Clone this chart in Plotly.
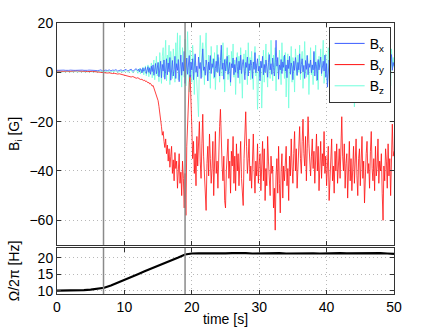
import plotly.graph_objects as go
from plotly.subplots import make_subplots

# time base (s): 0.25 s steps while quiet, 0.125 s steps from 12 s on
t = [i * 0.25 for i in range(48)] + [12 + i * 0.125 for i in range(305)]

Bx = [
    0.8, 0.9, 0.7, 0.8, 0.9, 0.8, 0.7, 0.8, 0.9, 0.7, 0.8, 0.8, 0.9, 0.7, 0.8, 0.9, 0.8, 0.7, 0.8, 0.9,
    0.8, 0.7, 0.9, 0.8, 0.7, 0.8, 1.0, 0.6, 0.8, 0.9, 0.7, 1.0, 0.6, 0.9, 0.8, 1.1, 0.5, 0.9, 1.0, 0.6,
    0.9, 1.2, 0.5, 1.0, 1.3, 0.4, 1.1, 1.5,
    0.6, 1.3, 0.2, 1.5, 0.9, -0.2, 1.8, 0.4, 1.1, 2.0, -0.5, 1.4, 2.3, 0.0, 1.7, -0.8,
    2.5, 0.3, 3.0, -1.2, 1.8, 3.6, -0.6, 2.2, 4.0, -1.8, 1.0, 4.5, -2.2, 3.2, 0.5, 5.0,
    -2.8, 2.0, 5.5, -1.0, 3.8, 0.2, 6.0, -3.2, 2.8, 4.8, -1.5, 1.2, 6.5, -2.5, 3.5, 0.8,
    5.2, -3.8, 2.2, 7.0, -1.2, 4.0, 0.5, 8.5, -4.5, 3.0, 5.8, -0.8, 2.0, 6.8, -2.0, 4.2,
    1.0, 5.5, -3.0, 3.2, 7.5, 0.0, 2.5, -1.8, 6.2, 1.5, 4.0, -2.5, 3.0, 9.5, 0.8, 2.2,
    -1.2, 5.0, 2.8, -3.5, 4.2, 1.0, 6.8, -0.5, 3.5, 2.0, 5.5, -2.0, 1.5, 4.5, 0.2, 7.2,
    2.5, -1.5, 4.8, 11.0, 1.2, 3.8, -2.8, 5.2, 0.5, 3.0, 6.5, -0.8, 2.2, 4.0, -4.0, 3.5,
    1.8, 5.8, -1.0, 3.2, 0.0, 6.0, 2.5, -2.2, 4.5, 1.0, 7.0, -0.5, 3.0, 5.2, 1.5, -3.0,
    4.0, 2.0, 6.2, -1.5, 3.5, 0.8, 5.0, 2.8, -2.5, 4.2, 1.2, 8.0, -0.2, 3.0, 5.5, 0.5,
    2.5, -3.5, 4.5, 1.8, 6.5, -1.0, 3.2, 0.0, 5.0, 2.2, -2.0, 4.0, 7.2, 1.0, 3.5, -0.8,
    5.8, 2.0, -1.5, 4.0, 13.0, 2.5, 6.0, -2.8, 3.0, 1.0, 5.2, -0.5, 4.2, 2.0, 7.0, 0.5,
    3.0, -2.2, 5.0, 1.5, 6.5, -0.8, 3.8, 2.2, -3.0, 4.5, 0.8, 6.0, 2.5, -1.2, 4.0, 1.0,
    7.5, -0.5, 3.2, 5.5, 0.2, 2.8, -2.5, 4.8, 1.2, 6.8, -1.0, 3.5, 2.0, 5.0, -0.2, 3.0,
    1.0, 8.5, -1.5, 4.2, 2.5, -3.2, 5.2, 1.0, 3.8, 6.2, -0.5, 2.2, 4.5, 0.5, 7.0, -2.0,
    3.5, -6.0, 2.0, 5.0, 0.8, 4.0, -1.2, 6.5, 2.2, 3.0, -0.5, 5.5, 1.5, 4.2, -2.5, 3.5,
    0.5, 6.0, 2.8, -1.0, 4.5, 1.2, 7.5, -0.8, 3.0, 5.2, 0.2, 2.5, -3.0, 4.8, 1.5, 6.2,
    -0.5, 3.8, 2.0, 5.5, -1.8, 3.2, 0.5, 6.8, 2.5, -1.2, 4.5, 1.0, 5.8, -0.2, 3.0, 2.0,
    7.0, -2.5, 4.0, 1.5, 5.2, 0.0, 3.5, -1.5, 6.0, 2.2, 4.8, -0.8, 3.0, 1.2, 8.0, 0.5,
    3.8, -1.0, 5.5, 2.0, -2.8, 4.2, 1.5, 6.5, 0.2, 3.2, -0.5, 5.0, 2.5, 7.2, 0.8, 4.0,
    2.5,
]

By = [
    0.5, 0.6, 0.5, 0.4, 0.5, 0.6, 0.5, 0.4, 0.5, 0.5, 0.4, 0.5, 0.6, 0.5, 0.4, 0.4, 0.5, 0.4, 0.3, 0.4,
    0.3, 0.4, 0.3, 0.2, 0.2, 0.1, 0.0, -0.1, 0.0, -0.2, -0.3, -0.2, -0.4, -0.5, -0.4, -0.6, -0.7, -0.6, -0.8, -0.9,
    -1.2, -1.4, -1.3, -1.6, -1.9, -1.7, -2.1, -2.4,
    -2.2, -2.5, -2.4, -2.9, -2.7, -3.1, -3.0, -3.4, -3.2, -3.7, -3.5, -4.0, -4.3, -4.1, -4.7, -4.5,
    -5.0, -5.6, -5.3, -6.4, -7.0, -7.8, -8.9, -10.2, -11.5, -13.8, -16.0, -19.5, -22.0, -25.5, -24.0, -28.0,
    -30.5, -27.0, -33.0, -29.5, -36.0, -31.0, -38.5, -34.0, -30.0, -41.0, -35.5, -44.0, -32.5, -39.0, -36.0, -47.0,
    -38.0, -33.0, -45.0, -40.5, -50.0, -36.0, -43.0, -55.0, -41.0, -58.0, -30.0, -20.0, -10.0, -4.0, -1.0, -9.0,
    -22, -35, -28, -41, -33, -46, -26, -38, -31, -20, -36, -43, -29, -17, -34, -40,
    -48, -56, -37, -30, -42, -25, -35, -45, -39, -28, -50, -33, -24, -41, -36, -47,
    -30, -22, -15, -29, -38, -44, -34, -52, -55, -40, -31, -27, -43, -36, -49, -32,
    -38, -26, -45, -34, -48, -29, -40, -33, -46, -37, -28, -43, -51, -54, -35, -22,
    -16, -30, -41, -35, -27, -44, -38, -47, -31, -25, -40, -49, -36, -42, -29, -45,
    -37, -33, -48, -40, -28, -44, -31, -52, -39, -46, -26, -36, -43, -50, -34, -41,
    -38, -55, -47, -64, -42, -35, -49, -30, -45, -57, -40, -33, -51, -38, -44, -36,
    -30, -46, -39, -52, -34, -42, -27, -38, -45, -33, -24, -40, -31, -47, -36, -29,
    -22, -35, -41, -28, -19, -33, -38, -26, -44, -31, -18, -29, -37, -42, -34, -27,
    -39, -32, -45, -36, -25, -40, -30, -48, -35, -28, -43, -33, -38, -24, -41, -34,
    -46, -37, -30, -52, -42, -35, -27, -44, -38, -49, -32, -40, -29, -45, -36, -31,
    -43, -25, -18, -34, -40, -29, -47, -37, -33, -51, -39, -28, -44, -35, -48, -41,
    -30, -45, -38, -27, -42, -50, -35, -31, -46, -39, -26, -43, -36, -53, -40, -33,
    -28, -41, -37, -47, -32, -24, -39, -44, -35, -48, -30, -42, -38, -27, -45, -36,
    -40, -33, -49, -60, -38, -44, -31, -36, -47, -29, -42, -35, -50, -39, -21, -34,
    -32,
]

Bz = [
    0.3, 0.4, 0.3, 0.2, 0.3, 0.4, 0.3, 0.3, 0.2, 0.3, 0.4, 0.3, 0.2, 0.3, 0.4, 0.3, 0.2, 0.3, 0.3, 0.4,
    0.3, 0.2, 0.4, 0.3, 0.2, 0.3, 0.5, 0.1, 0.3, 0.4, 0.2, 0.5, 0.1, 0.4, 0.3, 0.6, 0.0, 0.4, 0.5, 0.1,
    0.4, 0.7, 0.0, 0.5, 0.9, -0.2, 0.6, 1.2,
    -0.4, 0.9, 1.6, -0.6, 1.2, 0.3, 2.0, -1.0, 1.5, 2.6, -1.4, 0.8, 3.0, -1.8, 2.2, 0.5,
    3.8, -2.2, 1.5, 5.0, -3.0, 2.8, 6.5, -1.5, 4.0, -3.8, 8.0, 1.0, -4.5, 6.5, 10.0, -2.0,
    4.0, 13.0, -3.5, 7.0, 1.5, 11.0, -5.0, 8.5, 3.0, -2.5, 9.5, 5.0, -4.0, 12.0, 2.0, 16.0,
    -3.0, 7.5, 15.0, 1.0, -6.0, 10.0, 4.0, -2.0, 13.5, -5.5, 6.0, 16.5, 2.0, -8.0, 9.0, 3.5,
    -4.0, 11.0, 5.0, -9.0, 7.0, 2.0, -6.0, -12.0, -18.0, 4.0, 15.0, 8.0, -2.0, 12.0, 2.5, -5.0,
    9.5, 16.0, 0.5, -3.5, 7.0, 3.0, -6.5, 10.5, 1.5, 5.5, -2.5, 8.0, -7.0, 4.5, 11.0, 0.0,
    6.0, -4.0, 2.5, 9.0, -1.5, 12.0, 3.5, -8.0, 5.5, 0.5, 10.0, -3.0, 7.0, 1.0, -5.5, 8.5,
    2.0, 11.5, -2.0, 5.0, -9.0, 3.5, 8.0, -0.5, 6.5, -4.5, 10.0, 1.5, -10.5, 4.0, 7.5, -1.0,
    9.0, 3.0, -5.0, 12.0, 0.5, 6.0, -3.0, 8.5, 2.0, -7.0, 5.0, 10.5, -1.5, 3.5, -15.0, 1.0,
    7.0, -2.0, 4.5, -14.5, 2.5, 9.0, -4.0, 6.0, 11.5, 0.0, -6.0, 8.0, 3.0, -2.5, 13.0, 4.5,
    -3.5, 7.0, 1.0, 10.0, -7.5, 5.0, 2.5, -1.0, 9.0, 4.0, -5.0, 12.0, 0.5, 6.5, -2.5, 8.0,
    -10.0, 3.0, 7.5, -14.5, 5.5, 1.0, 10.5, -4.0, 6.0, 2.0, -8.0, 9.5, 3.5, -1.5, 7.0, 0.0,
    11.0, -3.0, 5.0, 8.5, -6.5, 2.5, 12.5, 0.5, -2.0, 7.0, 4.0, -9.0, 6.0, 10.0, -1.0, 3.0,
    -5.0, 8.0, 1.5, 11.0, -3.5, 4.5, -7.0, 6.5, 2.0, 9.5, -1.5, 5.0, 13.0, -4.5, 3.0, 7.5,
    0.0, -6.0, 10.0, 4.0, -2.5, 8.5, 1.5, -8.5, 6.0, 12.0, -1.0, 3.5, 7.0, -4.0, 9.0, 2.0,
    -3.0, 11.0, 5.5, -6.5, 2.5, 8.0, 0.0, 14.0, -5.0, 4.0, 9.5, -2.0, 6.5, 1.5, -9.5, 7.0,
    3.0, -14.0, 5.0, 10.5, -3.5, 1.5, 8.0, -1.0, 12.0, 4.5, -6.0, 7.5, 2.0, -2.5, 9.0, 0.5,
    5.5, -7.5, 11.0, 3.0, -1.5, 8.5, -4.5, 6.0, 1.0, 13.0, -3.0, 4.5, 9.0, -6.0, 2.5, 7.0,
    -2.0, 10.0, 4.0, -8.0, 6.5, 1.5, 12.0, -4.0, 3.5, 8.0, -1.0, 5.5, -5.5, 9.5, 2.0, 6.0,
    2.0,
]

# rotation frequency
t_om = list(range(51))
Omega = [
    10.0, 10.0, 10.05, 10.1, 10.2, 10.35, 10.6, 10.9, 11.6, 12.4,
    13.3, 14.2, 15.0, 15.9, 16.7, 17.5, 18.3, 19.2, 20.1, 21.0,
    21.3, 21.35, 21.3, 21.35, 21.4, 21.35, 21.4, 21.45, 21.4, 21.3,
    21.35, 21.4, 21.45, 21.4, 21.3, 21.35, 21.45, 21.4, 21.35, 21.3,
    21.4, 21.45, 21.4, 21.35, 21.4, 21.45, 21.4, 21.35, 21.4, 21.3,
    21.2,
]

events = [6.9, 19.0]

series = [("B<sub>x</sub>", "#3a5cff"), ("B<sub>y</sub>", "#ff1010"), ("B<sub>z</sub>", "#70ffdc")]

fig = make_subplots(rows=2, cols=1, shared_xaxes=True)

# data drawn z, y, x so the blue band sits on top
for yy, (name, col) in zip([Bz, By, Bx], series[::-1]):
    fig.add_trace(go.Scatter(x=t, y=yy, mode="lines", name=name, showlegend=False,
                             line=dict(color=col, width=0.8)), row=1, col=1)
fig.add_trace(go.Scatter(x=t_om, y=Omega, mode="lines", showlegend=False,
                         line=dict(color="black", width=2.2)), row=2, col=1)
# legend entries in x, y, z order
for name, col in series:
    fig.add_trace(go.Scatter(x=[None], y=[None], mode="lines", name=name,
                             line=dict(color=col, width=1)), row=1, col=1)

for ev in events:
    fig.add_vline(x=ev, row="all", col=1, line_color="#8a8a8a", line_width=1.5, layer="above")

axis_style = dict(showline=True, linecolor="#333333", linewidth=1, mirror="ticks",
                  ticks="inside", ticklen=4, tickcolor="#333333",
                  showgrid=True, gridcolor="#b8b8b8", griddash="1px,3px", gridwidth=1,
                  zeroline=False, automargin=False,
                  tickfont=dict(size=14, color="black"))

fig.update_xaxes(**axis_style, range=[0, 50], tickvals=[0, 10, 20, 30, 40, 50])
fig.update_yaxes(**axis_style)
fig.update_xaxes(title_text="time [s]", title_font=dict(size=14, color="black"),
                 title_standoff=2, row=2, col=1)
fig.update_yaxes(range=[-70, 20], tickvals=[-60, -40, -20, 0, 20], domain=[0.181, 1],
                 title_text="B<sub>i</sub> [G]", title_font=dict(size=14, color="black"),
                 row=1, col=1)
fig.update_yaxes(range=[9, 23], tickvals=[10, 15, 20], domain=[0, 0.17],
                 title_text="Ω/2π [Hz]", title_font=dict(size=14, color="black"),
                 row=2, col=1)

fig.update_layout(template="none", width=436, height=327,
    plot_bgcolor="white", paper_bgcolor="white",
    font=dict(family="Liberation Sans, Arial, sans-serif", size=14, color="black"),
    margin=dict(l=57, r=42, t=23, b=33),
    legend=dict(x=0.99, y=0.986, xanchor="right", yanchor="top",
                bgcolor="white", bordercolor="#333333", borderwidth=1,
                font=dict(size=14), tracegroupgap=0),
    showlegend=True)

fig.write_html("out.html", config={"displayModeBar": False},
               post_script="document.body.style.margin='0px';")
